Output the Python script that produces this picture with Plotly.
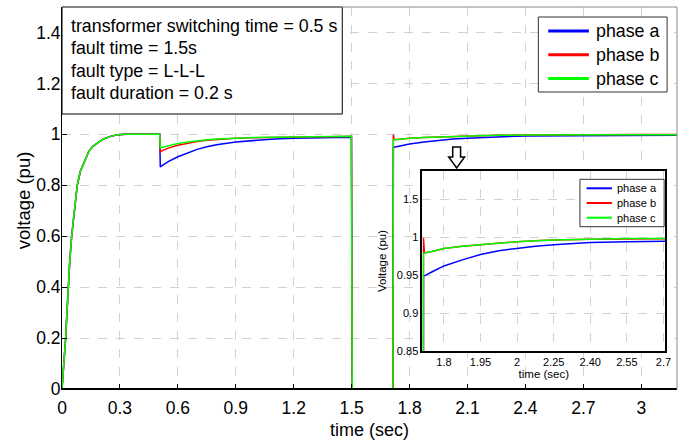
import plotly.graph_objects as go

# ---- data -------------------------------------------------------------
# simulation time (s), shared by the three phases
t = [0, 0.010, 0.019, 0.025, 0.032, 0.040, 0.050, 0.063, 0.079, 0.095,
     0.118, 0.140, 0.160, 0.185, 0.210, 0.250, 0.290, 0.330, 0.400, 0.506,
     0.509, 0.550, 0.600, 0.650, 0.700, 0.750, 0.800, 0.900, 1.000, 1.100,
     1.200, 1.300, 1.400, 1.499,
     1.503, 1.600, 1.714,
     1.716, 1.720, 1.750, 1.800, 1.875, 1.950, 2.025, 2.100, 2.175, 2.250,
     2.400, 2.550, 2.700, 2.850, 3.000, 3.185]

# energisation ramp common to all phases (0 .. 0.506 s)
startup = [0, 0.10, 0.20, 0.29, 0.40, 0.50, 0.60, 0.70, 0.80, 0.855,
           0.90, 0.935, 0.953, 0.968, 0.980, 0.992, 0.998, 1.0, 1.0, 1.0]

phase_a = startup + [0.872, 0.893, 0.912, 0.928, 0.941, 0.951, 0.959, 0.970, 0.977, 0.982,
                     0.985, 0.987, 0.988, 0.989,
                     0, 0, 0,
                     0.949, 0.949, 0.954, 0.962, 0.970, 0.977, 0.982, 0.985, 0.988, 0.990,
                     0.993, 0.994, 0.995, 0.995, 0.996, 0.996]
phase_b = startup + [0.932, 0.946, 0.957, 0.966, 0.972, 0.977, 0.980, 0.985, 0.987, 0.989,
                     0.990, 0.991, 0.991, 0.992,
                     0, 0, 0,
                     0.999, 0.979, 0.981, 0.985, 0.988, 0.990, 0.992, 0.994, 0.995, 0.996,
                     0.997, 0.998, 0.999, 0.999, 0.999, 0.999]
phase_c = startup + [0.947, 0.956, 0.964, 0.970, 0.975, 0.979, 0.982, 0.986, 0.988, 0.989,
                     0.990, 0.991, 0.991, 0.992,
                     0, 0, 0,
                     0.978, 0.979, 0.981, 0.985, 0.988, 0.990, 0.992, 0.994, 0.995, 0.996,
                     0.997, 0.998, 0.998, 0.998, 0.998, 0.998]

names = ["phase a", "phase b", "phase c"]
colors = ["#0000ff", "#ff0000", "#00ff00"]
series = [phase_a, phase_b, phase_c]

main_xticks = [0, 0.3, 0.6, 0.9, 1.2, 1.5, 1.8, 2.1, 2.4, 2.7, 3.0]
main_xlabels = ["0", "0.3", "0.6", "0.9", "1.2", "1.5", "1.8", "2.1", "2.4", "2.7", "3"]
main_yticks = [0, 0.2, 0.4, 0.6, 0.8, 1.0, 1.2, 1.4]
main_ylabels = ["0", "0.2", "0.4", "0.6", "0.8", "1", "1.2", "1.4"]

zoom_xticks = [1.8, 1.95, 2.1, 2.25, 2.4, 2.55, 2.7]
zoom_xlabels = ["1.8", "1.95", "2", "2.25", "2.40", "2.55", "2.7"]
zoom_yticks = [0.85, 0.9, 0.95, 1.0, 1.05]
zoom_ylabels = ["0.85", "0.9", "0.95", "1", "1.5"]

info_lines = ["transformer switching time = 0.5 s", "fault time = 1.5s",
              "fault type = L-L-L", "fault duration = 0.2 s"]

# ---- layout helpers ---------------------------------------------------
W, H = 686, 445
ML, MR, MT, MB = 62, 3, 7, 56
PW, PH = W - ML - MR, H - MT - MB


def px(x):
    """page pixel column -> paper x"""
    return (x - ML) / PW


def py(y):
    """page pixel row -> paper y"""
    return (H - MB - y) / PH


FONT = "Liberation Sans, Arial, sans-serif"
GRID = "#d2d2d2"

fig = go.Figure()

# main plot
for name, col, v in zip(names, colors, series):
    fig.add_trace(go.Scatter(x=t, y=v, mode="lines", name=name,
                             line=dict(color=col, width=1.5),
                             showlegend=False, xaxis="x", yaxis="y"))

# zoomed view after fault clearing
for name, col, v in zip(names, colors, series):
    fig.add_trace(go.Scatter(x=t, y=v, mode="lines", name=name,
                             line=dict(color=col, width=1.5),
                             showlegend=False, xaxis="x2", yaxis="y2"))

fig.update_layout(
    width=W, height=H,
    margin=dict(l=ML, r=MR, t=MT, b=MB),
    paper_bgcolor="white", plot_bgcolor="white",
    showlegend=False,
    font=dict(family=FONT, color="black", size=17.5),
    xaxis=dict(range=[0, 3.185], tickmode="array", tickvals=main_xticks, ticktext=main_xlabels,
               showgrid=True, gridcolor=GRID, griddash="dash", gridwidth=1,
               zeroline=False, showline=True, linecolor="black", linewidth=1,
               ticks="inside", ticklen=5, tickcolor="black",
               tickfont=dict(size=17.5), ticklabelstandoff=3,
               title=dict(text="time (sec)", font=dict(size=18), standoff=6)),
    yaxis=dict(range=[0, 1.5], tickmode="array", tickvals=main_yticks, ticktext=main_ylabels,
               showgrid=True, gridcolor=GRID, griddash="dash", gridwidth=1,
               zeroline=False, showline=True, linecolor="black", linewidth=1,
               ticks="inside", ticklen=5, tickcolor="black",
               tickfont=dict(size=17.5), ticklabelstandoff=-3),
    xaxis2=dict(domain=[px(426), px(671)], anchor="y2", range=[1.712, 2.707],
                tickmode="array", tickvals=zoom_xticks, ticktext=zoom_xlabels,
                showgrid=True, gridcolor=GRID, griddash="dash", gridwidth=1,
                zeroline=False, showline=True, mirror=True, linecolor="black", linewidth=2,
                ticks="", tickfont=dict(size=11),
                title=dict(text="time (sec)", font=dict(size=11.5), standoff=2)),
    yaxis2=dict(domain=[py(351), py(171)], anchor="x2", range=[0.85, 1.087],
                tickmode="array", tickvals=zoom_yticks, ticktext=zoom_ylabels,
                showgrid=True, gridcolor=GRID, griddash="dash", gridwidth=1,
                zeroline=False, showline=True, mirror=True, linecolor="black", linewidth=2,
                ticks="", tickfont=dict(size=11),
                title=dict(text="Voltage (pu)", font=dict(size=11.5), standoff=8)),
)

shapes = []
annotations = []

# y-axis title of the main plot
annotations.append(dict(text="voltage (pu)", xref="paper", yref="paper",
                        x=px(24), y=py(200), xanchor="center", yanchor="middle",
                        textangle=-90, showarrow=False, font=dict(size=18.5)))

# case description box
shapes.append(dict(type="rect", xref="paper", yref="paper",
                   x0=px(62), x1=px(345), y0=py(114), y1=py(7),
                   line=dict(color="black", width=1), fillcolor="white", layer="above"))
for i, line in enumerate(info_lines):
    annotations.append(dict(text=line, xref="paper", yref="paper",
                            x=px(69), y=py(26 + 22.4 * i), xanchor="left", yanchor="middle",
                            showarrow=False, font=dict(size=17.8)))

# legend for the main plot
shapes.append(dict(type="rect", xref="paper", yref="paper",
                   x0=px(543), x1=px(673), y0=py(92), y1=py(17),
                   line=dict(color="#333333", width=1), fillcolor="white", layer="above"))
for i, (name, col) in enumerate(zip(names, colors)):
    yy = 31 + 23.8 * i
    shapes.append(dict(type="line", xref="paper", yref="paper",
                       x0=px(553), x1=px(594), y0=py(yy), y1=py(yy),
                       line=dict(color=col, width=3), layer="above"))
    annotations.append(dict(text=name, xref="paper", yref="paper",
                            x=px(599), y=py(yy), xanchor="left", yanchor="middle",
                            showarrow=False, font=dict(size=17.8)))

# legend for the zoomed view
shapes.append(dict(type="rect", xref="paper", yref="paper",
                   x0=px(585), x1=px(670), y0=py(226.7), y1=py(179.3),
                   line=dict(color="#333333", width=1), fillcolor="white", layer="above"))
for i, (name, col) in enumerate(zip(names, colors)):
    yy = 188.3 + 14.7 * i
    shapes.append(dict(type="line", xref="paper", yref="paper",
                       x0=px(591.7), x1=px(617.3), y0=py(yy), y1=py(yy),
                       line=dict(color=col, width=2), layer="above"))
    annotations.append(dict(text=name, xref="paper", yref="paper",
                            x=px(620), y=py(yy), xanchor="left", yanchor="middle",
                            showarrow=False, font=dict(size=11)))

# axis frame: black baseline drawn over the traces, light top and right edges
shapes.append(dict(type="line", xref="paper", yref="paper", x0=0, x1=1, y0=0, y1=0,
                   line=dict(color="black", width=2), layer="above"))
shapes.append(dict(type="line", xref="paper", yref="paper", x0=0, x1=1, y0=1, y1=1,
                   line=dict(color="#8c8c8c", width=1), layer="above"))
shapes.append(dict(type="line", xref="paper", yref="paper", x0=1, x1=1, y0=0, y1=1,
                   line=dict(color="#8c8c8c", width=1), layer="above"))

# hollow arrow pointing at the zoomed view
ax = [456.5, 464.5, 464.5, 468.5, 460.5, 452.5, 456.5]
ay = [147, 147, 157, 157, 168, 157, 157]
arrow_path = "M " + " L ".join(f"{px(a):.4f} {py(b):.4f}" for a, b in zip(ax, ay)) + " Z"
shapes.append(dict(type="path", xref="paper", yref="paper", path=arrow_path,
                   line=dict(color="black", width=1.5), fillcolor="white", layer="above"))

fig.update_layout(shapes=shapes, annotations=annotations)

fig.write_html("out.html")
